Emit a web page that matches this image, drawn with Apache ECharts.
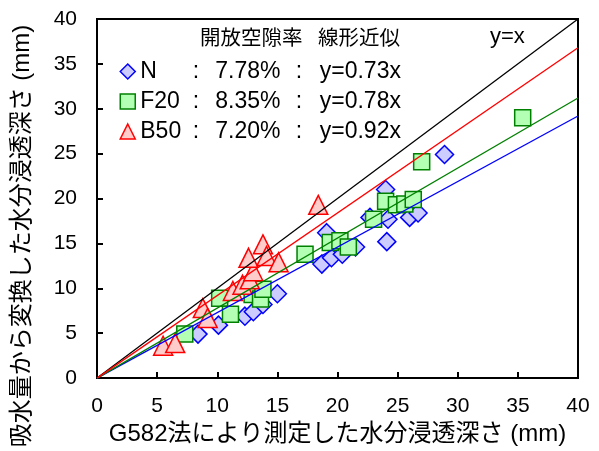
<!DOCTYPE html>
<html>
<head>
<meta charset="utf-8">
<script src="https://cdn.jsdelivr.net/npm/echarts@6/dist/echarts.min.js"></script>
<style>html,body{margin:0;padding:0;background:#fff;}#c{width:599px;height:451px;}</style>
</head>
<body>
<div id="c"></div>
<script>
// ---- data ----
const seriesNames = ['N', 'F20', 'B50'];
const voidRatios = ['7.78%', '8.35%', '7.20%'];
const slopes = [0.73, 0.78, 0.92];
const xTicks = [0, 5, 10, 15, 20, 25, 30, 35, 40];
const yTicks = [0, 5, 10, 15, 20, 25, 30, 35, 40];
const dataN = [
  [8.4, 4.9], [10.1, 5.9], [12.3, 6.9], [13.0, 7.4], [13.8, 8.2], [15.0, 9.4],
  [18.7, 12.7], [19.1, 16.2], [19.5, 13.4], [20.4, 13.8], [21.5, 14.6],
  [22.7, 17.9], [24.0, 21.0], [24.1, 15.2], [24.2, 17.7], [26.0, 17.9],
  [26.7, 18.4], [28.9, 24.9]
];
const dataF20 = [
  [7.3, 4.9], [10.2, 8.9], [11.1, 7.1], [12.9, 9.3], [13.6, 8.8], [13.8, 9.9],
  [17.3, 13.8], [19.4, 15.1], [20.2, 15.3], [20.9, 14.6], [23.0, 17.7],
  [24.0, 19.7], [24.9, 19.3], [25.6, 19.4], [26.3, 19.9], [27.0, 24.1],
  [35.4, 29.0]
];
const dataB50 = [
  [5.5, 3.6], [6.5, 3.9], [8.8, 7.8], [9.2, 6.7], [11.3, 9.7], [12.1, 10.4],
  [12.7, 11.0], [13.0, 11.9], [12.6, 13.4], [13.8, 14.9], [14.1, 13.6],
  [15.1, 12.9], [18.4, 19.3]
];
const headerLabels = ['開放空隙率', '線形近似'];
const xTitle = 'G582法により測定した水分浸透深さ (mm)';
const yTitle = '吸水量から変換した水分浸透深さ (mm)';

const FONT = '"Liberation Sans", Arial, "Noto Sans CJK JP", sans-serif';
const CJK = '"Noto Sans CJK JP", sans-serif';
const xMax = xTicks[xTicks.length - 1];
const styles = [
  { symbol: 'diamond', size: 18, fill: '#ccccff', stroke: '#0000ff', line: '#0000ff' },
  { symbol: 'rect', size: 16, fill: '#b3ffb3', stroke: '#008000', line: '#008000' },
  { symbol: 'triangle', size: 19, fill: '#ffcccc', stroke: '#ff0000', line: '#ff0000' }
];
const allData = [dataN, dataF20, dataB50];

const series = [];
allData.forEach((d, i) => {
  series.push({
    name: seriesNames[i], type: 'scatter', data: d,
    symbol: styles[i].symbol, symbolSize: styles[i].size,
    itemStyle: { color: styles[i].fill, borderColor: styles[i].stroke, borderWidth: 1.5, opacity: 1 },
    z: 2 + i
  });
});
series.push({
  name: 'ref', type: 'line', data: [[0, 0], [xMax, xMax]], symbol: 'none',
  lineStyle: { color: '#000', width: 1.3 }, z: 10, silent: true
});
slopes.forEach((k, i) => {
  series.push({
    name: 'fit' + i, type: 'line', data: [[0, 0], [xMax, k * xMax]], symbol: 'none',
    lineStyle: { color: styles[i].line, width: 1.3 }, z: 10, silent: true
  });
});

const LF = 23;
const legendRich = {
  n: { width: 52.5, fontSize: LF, fontFamily: FONT, lineHeight: 24 },
  c1: { width: 22.5, fontSize: LF, fontFamily: FONT, lineHeight: 24 },
  p: { width: 80.5, fontSize: LF, fontFamily: FONT, lineHeight: 24 },
  c2: { width: 24, fontSize: LF, fontFamily: FONT, lineHeight: 24 },
  f: { fontSize: LF, fontFamily: FONT, lineHeight: 24 }
};
const rowCenters = [72, 102, 132];
const legends = seriesNames.map((n, i) => ({
  data: [{ name: n, icon: styles[i].symbol }],
  orient: 'vertical', left: 119.5, top: rowCenters[i] - 12,
  itemWidth: 15, itemHeight: 15, itemTextGap: 8, padding: 0,
  itemStyle: { borderWidth: 1.5 },
  selectedMode: false,
  formatter: function (name) {
    const j = seriesNames.indexOf(name);
    return '{n|' + name + '}{c1|:}{p|' + voidRatios[j] + '}{c2|:}{f|y=' + slopes[j].toFixed(2) + 'x}';
  },
  textStyle: { color: '#000', fontSize: LF, fontFamily: FONT, rich: legendRich }
}));

const chart = echarts.init(document.getElementById('c'));
chart.setOption({
  animation: false,
  backgroundColor: '#fff',
  grid: { left: 97, right: 21, top: 19, bottom: 72, show: true, borderColor: '#000', borderWidth: 2 },
  xAxis: {
    type: 'value', min: xTicks[0], max: xMax, interval: 5,
    axisLine: { show: true, lineStyle: { color: '#000', width: 2 } },
    axisTick: { show: true, inside: true, length: 6, lineStyle: { color: '#000', width: 2 } },
    axisLabel: { color: '#000', fontSize: 21, fontFamily: FONT, margin: 18 },
    splitLine: { show: false },
    name: xTitle, nameLocation: 'middle', nameGap: 43,
    nameTextStyle: { color: '#000', fontSize: 24, fontFamily: FONT }
  },
  yAxis: {
    type: 'value', min: yTicks[0], max: yTicks[yTicks.length - 1], interval: 5,
    axisLine: { show: true, lineStyle: { color: '#000', width: 2 } },
    axisTick: { show: true, inside: true, length: 6, lineStyle: { color: '#000', width: 2 } },
    axisLabel: { color: '#000', fontSize: 21, fontFamily: FONT, margin: 20 },
    splitLine: { show: false }
  },
  legend: legends,
  graphic: [
    { type: 'text', left: 200, top: 27, style: { text: headerLabels[0], fontSize: 20.5, fontFamily: CJK, fill: '#000' } },
    { type: 'text', left: 318, top: 27, style: { text: headerLabels[1], fontSize: 20.5, fontFamily: CJK, fill: '#000' } },
    { type: 'text', left: 490, top: 26, style: { text: 'y=x', fontSize: 22, fontFamily: FONT, fill: '#000' } },
    { type: 'text', x: 22, y: 236, rotation: Math.PI / 2,
      style: { text: yTitle, fontSize: 24, fontFamily: FONT, fill: '#000', align: 'center', verticalAlign: 'middle' } }
  ],
  series: series
});
</script>
</body>
</html>
